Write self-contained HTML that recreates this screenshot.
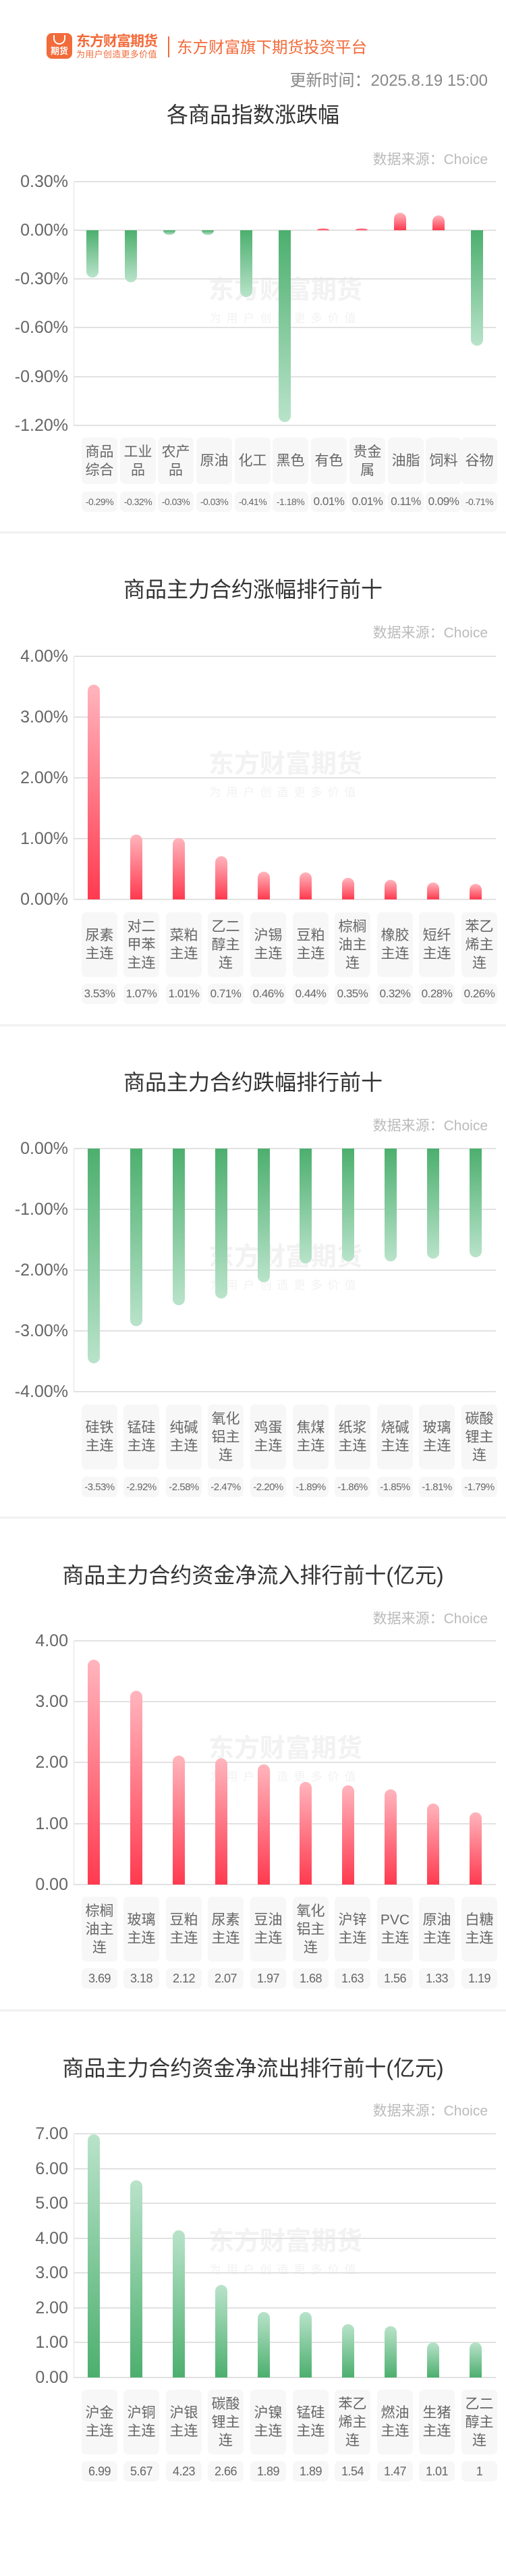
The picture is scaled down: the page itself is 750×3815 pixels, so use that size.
<!DOCTYPE html>
<html><head><meta charset="utf-8">
<style>
*{margin:0;padding:0;box-sizing:border-box}
body{width:750px;height:3815px;background:#fff;position:relative;overflow:hidden;font-family:"Liberation Sans","Noto Sans CJK SC",sans-serif}
div{position:absolute}
.t{left:0;width:750px;text-align:center;font-size:32px;color:#333;line-height:36px}
.ds{right:27px;font-size:21px;color:#bbb;line-height:24px}
.sep{left:0;width:750px;height:3px;background:#f1f1f1}
.g{left:110px;width:625px;height:2px;background:#e2e2e2}
.ya{left:109px;width:1px;background:#e2e2e2}
.yl{left:0;width:101px;text-align:right;font-size:25px;color:#666;line-height:28px;height:28px}
.gn,.gp,.rn,.rp{width:18px}
.gn{background:linear-gradient(#4caf6e,#b9e3ca);border-radius:0 0 9px 9px}
.gp{background:linear-gradient(#b9e3ca,#4caf6e);border-radius:9px 9px 0 0}
.rp{background:linear-gradient(#ffb5bd,#ff3a4f);border-radius:9px 9px 0 0}
.rn{background:linear-gradient(#ff3a4f,#ffb5bd);border-radius:0 0 9px 9px}
.lb{width:53px;background:#f7f7f7;border-radius:7px;display:flex;align-items:center;justify-content:center;text-align:center;font-size:21px;line-height:27px;color:#666;word-break:break-all;padding:0 4px}
.v{width:53px;height:30px;background:#f7f7f7;border-radius:7px;display:flex;align-items:center;justify-content:center;color:#666;font-size:17px;white-space:nowrap;letter-spacing:-0.5px}
.wm{left:308px;width:230px;text-align:center;font-size:38px;font-weight:bold;color:#f2f2f2;line-height:40px;white-space:nowrap}
.wms{left:308px;width:230px;text-align:center;font-size:17px;color:#f2f2f2;letter-spacing:8px;white-space:nowrap;line-height:20px}
</style></head><body>

<!-- header -->
<div style="left:69px;top:49px;width:38px;height:38px;background:#f26b3a;border-radius:8px"></div>
<div style="left:79px;top:52px;width:18px;height:14px;border:2px solid #fff;border-top:none;border-radius:0 0 9px 9px"></div>
<div style="left:70px;top:68px;width:36px;text-align:center;color:#fff;font-size:13px;font-weight:bold;line-height:16px">期货</div>
<div style="left:113px;top:50px;font-size:21px;font-weight:bold;color:#f26b3a;line-height:24px;letter-spacing:-1px">东方财富期货</div>
<div style="left:113px;top:74px;font-size:13px;color:#f26b3a;line-height:14px;letter-spacing:0.3px">为用户创造更多价值</div>
<div style="left:249px;top:54px;width:2px;height:31px;background:#f26b3a"></div>
<div style="left:262px;top:56px;font-size:23.5px;color:#f26b3a;line-height:28px">东方财富旗下期货投资平台</div>
<div style="right:27px;top:106px;font-size:24px;color:#888;line-height:28px">更新时间：2025.8.19 15:00</div>

<!-- ========== chart 1 ========== -->
<div class="t" style="top:152px">各商品指数涨跌幅</div>
<div class="ds" style="top:225px">数据来源：Choice</div>
<div class="wm" style="top:410px">东方财富期货</div><div class="wms" style="top:462px">为用户创造更多价值</div>
<div class="ya" style="top:269px;height:362px"></div>
<div class="g" style="top:268px"></div><div class="g" style="top:340px"></div><div class="g" style="top:412px"></div><div class="g" style="top:484px"></div><div class="g" style="top:557px"></div><div class="g" style="top:629px"></div>
<div class="yl" style="top:255px">0.30%</div><div class="yl" style="top:327px">0.00%</div><div class="yl" style="top:399px">-0.30%</div><div class="yl" style="top:471px">-0.60%</div><div class="yl" style="top:544px">-0.90%</div><div class="yl" style="top:616px">-1.20%</div>
<div class="gn" style="left:128px;top:341px;height:70px"></div>
<div class="gn" style="left:185px;top:341px;height:77px"></div>
<div class="gn" style="left:242px;top:341px;height:7px;border-radius:0 0 9px 9px/0 0 7px 7px"></div>
<div class="gn" style="left:299px;top:341px;height:7px;border-radius:0 0 9px 9px/0 0 7px 7px"></div>
<div class="gn" style="left:356px;top:341px;height:99px"></div>
<div class="gn" style="left:413px;top:341px;height:284px"></div>
<div class="rp" style="left:470px;top:338px;height:3px;border-radius:9px 9px 0 0/3px 3px 0 0"></div>
<div class="rp" style="left:527px;top:338px;height:3px;border-radius:9px 9px 0 0/3px 3px 0 0"></div>
<div class="rp" style="left:584px;top:315px;height:26px"></div>
<div class="rp" style="left:641px;top:319px;height:22px"></div>
<div class="gn" style="left:698px;top:341px;height:171px"></div>

<div class="lb" style="left:121px;top:648px;height:69px">商品综合</div>
<div class="lb" style="left:178px;top:648px;height:69px">工业品</div>
<div class="lb" style="left:234px;top:648px;height:69px">农产品</div>
<div class="lb" style="left:291px;top:648px;height:69px">原油</div>
<div class="lb" style="left:348px;top:648px;height:69px">化工</div>
<div class="lb" style="left:404px;top:648px;height:69px">黑色</div>
<div class="lb" style="left:461px;top:648px;height:69px">有色</div>
<div class="lb" style="left:518px;top:648px;height:69px">贵金属</div>
<div class="lb" style="left:575px;top:648px;height:69px">油脂</div>
<div class="lb" style="left:631px;top:648px;height:69px">饲料</div>
<div class="lb" style="left:684px;top:648px;height:69px">谷物</div>
<div class="v" style="left:121px;top:728px;font-size:14px">-0.29%</div>
<div class="v" style="left:178px;top:728px;font-size:14px">-0.32%</div>
<div class="v" style="left:234px;top:728px;font-size:14px">-0.03%</div>
<div class="v" style="left:291px;top:728px;font-size:14px">-0.03%</div>
<div class="v" style="left:348px;top:728px;font-size:14px">-0.41%</div>
<div class="v" style="left:404px;top:728px;font-size:14px">-1.18%</div>
<div class="v" style="left:461px;top:728px">0.01%</div>
<div class="v" style="left:518px;top:728px">0.01%</div>
<div class="v" style="left:575px;top:728px">0.11%</div>
<div class="v" style="left:631px;top:728px">0.09%</div>
<div class="v" style="left:684px;top:728px;font-size:14px">-0.71%</div>
<div class="sep" style="top:787px"></div>

<!-- ========== chart 2 ========== -->
<div class="t" style="top:855px">商品主力合约涨幅排行前十</div>
<div class="ds" style="top:926px">数据来源：Choice</div>
<div class="wm" style="top:1112px">东方财富期货</div><div class="wms" style="top:1164px">为用户创造更多价值</div>
<div class="ya" style="top:972px;height:361px"></div>
<div class="g" style="top:971px"></div><div class="g" style="top:1061px"></div><div class="g" style="top:1151px"></div><div class="g" style="top:1241px"></div><div class="g" style="top:1331px"></div>
<div class="yl" style="top:958px">4.00%</div><div class="yl" style="top:1048px">3.00%</div><div class="yl" style="top:1138px">2.00%</div><div class="yl" style="top:1228px">1.00%</div><div class="yl" style="top:1318px">0.00%</div>
<div class="rp" style="left:130px;top:1014px;height:318px"></div>
<div class="rp" style="left:193px;top:1236px;height:96px"></div>
<div class="rp" style="left:256px;top:1241px;height:91px"></div>
<div class="rp" style="left:319px;top:1268px;height:64px"></div>
<div class="rp" style="left:382px;top:1291px;height:41px"></div>
<div class="rp" style="left:444px;top:1292px;height:40px"></div>
<div class="rp" style="left:507px;top:1300px;height:32px"></div>
<div class="rp" style="left:570px;top:1303px;height:29px"></div>
<div class="rp" style="left:633px;top:1307px;height:25px"></div>
<div class="rp" style="left:696px;top:1309px;height:23px"></div>
<div class="lb" style="left:121px;top:1351px;height:96px">尿素主连</div>
<div class="lb" style="left:183px;top:1351px;height:96px">对二甲苯主连</div>
<div class="lb" style="left:246px;top:1351px;height:96px">菜粕主连</div>
<div class="lb" style="left:308px;top:1351px;height:96px">乙二醇主连</div>
<div class="lb" style="left:371px;top:1351px;height:96px">沪锡主连</div>
<div class="lb" style="left:434px;top:1351px;height:96px">豆粕主连</div>
<div class="lb" style="left:496px;top:1351px;height:96px">棕榈油主连</div>
<div class="lb" style="left:559px;top:1351px;height:96px">橡胶主连</div>
<div class="lb" style="left:621px;top:1351px;height:96px">短纤主连</div>
<div class="lb" style="left:684px;top:1351px;height:96px">苯乙烯主连</div>
<div class="v" style="left:121px;top:1457px">3.53%</div>
<div class="v" style="left:183px;top:1457px">1.07%</div>
<div class="v" style="left:246px;top:1457px">1.01%</div>
<div class="v" style="left:308px;top:1457px">0.71%</div>
<div class="v" style="left:371px;top:1457px">0.46%</div>
<div class="v" style="left:434px;top:1457px">0.44%</div>
<div class="v" style="left:496px;top:1457px">0.35%</div>
<div class="v" style="left:559px;top:1457px">0.32%</div>
<div class="v" style="left:621px;top:1457px">0.28%</div>
<div class="v" style="left:684px;top:1457px">0.26%</div>
<div class="sep" style="top:1517px"></div>

<!-- ========== chart 3 ========== -->
<div class="t" style="top:1585px">商品主力合约跌幅排行前十</div>
<div class="ds" style="top:1656px">数据来源：Choice</div>
<div class="wm" style="top:1842px">东方财富期货</div><div class="wms" style="top:1894px">为用户创造更多价值</div>
<div class="ya" style="top:1701px;height:361px"></div>
<div class="g" style="top:1700px"></div><div class="g" style="top:1790px"></div><div class="g" style="top:1880px"></div><div class="g" style="top:1970px"></div><div class="g" style="top:2060px"></div>
<div class="yl" style="top:1687px">0.00%</div><div class="yl" style="top:1777px">-1.00%</div><div class="yl" style="top:1867px">-2.00%</div><div class="yl" style="top:1957px">-3.00%</div><div class="yl" style="top:2047px">-4.00%</div>
<div class="gn" style="left:130px;top:1701px;height:318px"></div>
<div class="gn" style="left:193px;top:1701px;height:263px"></div>
<div class="gn" style="left:256px;top:1701px;height:232px"></div>
<div class="gn" style="left:319px;top:1701px;height:222px"></div>
<div class="gn" style="left:382px;top:1701px;height:198px"></div>
<div class="gn" style="left:444px;top:1701px;height:170px"></div>
<div class="gn" style="left:507px;top:1701px;height:167px"></div>
<div class="gn" style="left:570px;top:1701px;height:167px"></div>
<div class="gn" style="left:633px;top:1701px;height:163px"></div>
<div class="gn" style="left:696px;top:1701px;height:161px"></div>
<div class="lb" style="left:121px;top:2080px;height:96px">硅铁主连</div>
<div class="lb" style="left:183px;top:2080px;height:96px">锰硅主连</div>
<div class="lb" style="left:246px;top:2080px;height:96px">纯碱主连</div>
<div class="lb" style="left:308px;top:2080px;height:96px">氧化铝主连</div>
<div class="lb" style="left:371px;top:2080px;height:96px">鸡蛋主连</div>
<div class="lb" style="left:434px;top:2080px;height:96px">焦煤主连</div>
<div class="lb" style="left:496px;top:2080px;height:96px">纸浆主连</div>
<div class="lb" style="left:559px;top:2080px;height:96px">烧碱主连</div>
<div class="lb" style="left:621px;top:2080px;height:96px">玻璃主连</div>
<div class="lb" style="left:684px;top:2080px;height:96px">碳酸锂主连</div>
<div class="v" style="left:121px;top:2187px;font-size:15px">-3.53%</div>
<div class="v" style="left:183px;top:2187px;font-size:15px">-2.92%</div>
<div class="v" style="left:246px;top:2187px;font-size:15px">-2.58%</div>
<div class="v" style="left:308px;top:2187px;font-size:15px">-2.47%</div>
<div class="v" style="left:371px;top:2187px;font-size:15px">-2.20%</div>
<div class="v" style="left:434px;top:2187px;font-size:15px">-1.89%</div>
<div class="v" style="left:496px;top:2187px;font-size:15px">-1.86%</div>
<div class="v" style="left:559px;top:2187px;font-size:15px">-1.85%</div>
<div class="v" style="left:621px;top:2187px;font-size:15px">-1.81%</div>
<div class="v" style="left:684px;top:2187px;font-size:15px">-1.79%</div>
<div class="sep" style="top:2246px"></div>

<!-- ========== chart 4 ========== -->
<div class="t" style="top:2315px">商品主力合约资金净流入排行前十(亿元)</div>
<div class="ds" style="top:2386px">数据来源：Choice</div>
<div class="wm" style="top:2570px">东方财富期货</div><div class="wms" style="top:2622px">为用户创造更多价值</div>
<div class="ya" style="top:2430px;height:362px"></div>
<div class="g" style="top:2429px"></div><div class="g" style="top:2519px"></div><div class="g" style="top:2609px"></div><div class="g" style="top:2700px"></div><div class="g" style="top:2790px"></div>
<div class="yl" style="top:2416px">4.00</div><div class="yl" style="top:2506px">3.00</div><div class="yl" style="top:2596px">2.00</div><div class="yl" style="top:2687px">1.00</div><div class="yl" style="top:2777px">0.00</div>
<div class="rp" style="left:130px;top:2458px;height:333px"></div>
<div class="rp" style="left:193px;top:2504px;height:287px"></div>
<div class="rp" style="left:256px;top:2600px;height:191px"></div>
<div class="rp" style="left:319px;top:2604px;height:187px"></div>
<div class="rp" style="left:382px;top:2613px;height:178px"></div>
<div class="rp" style="left:444px;top:2639px;height:152px"></div>
<div class="rp" style="left:507px;top:2644px;height:147px"></div>
<div class="rp" style="left:570px;top:2650px;height:141px"></div>
<div class="rp" style="left:633px;top:2671px;height:120px"></div>
<div class="rp" style="left:696px;top:2684px;height:107px"></div>
<div class="lb" style="left:121px;top:2809px;height:96px">棕榈油主连</div>
<div class="lb" style="left:183px;top:2809px;height:96px">玻璃主连</div>
<div class="lb" style="left:246px;top:2809px;height:96px">豆粕主连</div>
<div class="lb" style="left:308px;top:2809px;height:96px">尿素主连</div>
<div class="lb" style="left:371px;top:2809px;height:96px">豆油主连</div>
<div class="lb" style="left:434px;top:2809px;height:96px">氧化铝主连</div>
<div class="lb" style="left:496px;top:2809px;height:96px">沪锌主连</div>
<div class="lb" style="left:559px;top:2809px;height:96px">PVC 主连</div>
<div class="lb" style="left:621px;top:2809px;height:96px">原油主连</div>
<div class="lb" style="left:684px;top:2809px;height:96px">白糖主连</div>
<div class="v" style="left:121px;top:2915px;font-size:18px">3.69</div>
<div class="v" style="left:183px;top:2915px;font-size:18px">3.18</div>
<div class="v" style="left:246px;top:2915px;font-size:18px">2.12</div>
<div class="v" style="left:308px;top:2915px;font-size:18px">2.07</div>
<div class="v" style="left:371px;top:2915px;font-size:18px">1.97</div>
<div class="v" style="left:434px;top:2915px;font-size:18px">1.68</div>
<div class="v" style="left:496px;top:2915px;font-size:18px">1.63</div>
<div class="v" style="left:559px;top:2915px;font-size:18px">1.56</div>
<div class="v" style="left:621px;top:2915px;font-size:18px">1.33</div>
<div class="v" style="left:684px;top:2915px;font-size:18px">1.19</div>
<div class="sep" style="top:2976px"></div>

<!-- ========== chart 5 ========== -->
<div class="t" style="top:3045px">商品主力合约资金净流出排行前十(亿元)</div>
<div class="ds" style="top:3115px">数据来源：Choice</div>
<div class="wm" style="top:3300px">东方财富期货</div><div class="wms" style="top:3352px">为用户创造更多价值</div>
<div class="ya" style="top:3160px;height:362px"></div>
<div class="g" style="top:3159px"></div><div class="g" style="top:3211px"></div><div class="g" style="top:3262px"></div><div class="g" style="top:3314px"></div><div class="g" style="top:3365px"></div><div class="g" style="top:3417px"></div><div class="g" style="top:3468px"></div><div class="g" style="top:3520px"></div>
<div class="yl" style="top:3146px">7.00</div><div class="yl" style="top:3198px">6.00</div><div class="yl" style="top:3249px">5.00</div><div class="yl" style="top:3301px">4.00</div><div class="yl" style="top:3352px">3.00</div><div class="yl" style="top:3404px">2.00</div><div class="yl" style="top:3455px">1.00</div><div class="yl" style="top:3507px">0.00</div>
<div class="gp" style="left:130px;top:3161px;height:360px"></div>
<div class="gp" style="left:193px;top:3229px;height:292px"></div>
<div class="gp" style="left:256px;top:3303px;height:218px"></div>
<div class="gp" style="left:319px;top:3384px;height:137px"></div>
<div class="gp" style="left:382px;top:3424px;height:97px"></div>
<div class="gp" style="left:444px;top:3424px;height:97px"></div>
<div class="gp" style="left:507px;top:3442px;height:79px"></div>
<div class="gp" style="left:570px;top:3445px;height:76px"></div>
<div class="gp" style="left:633px;top:3469px;height:52px"></div>
<div class="gp" style="left:696px;top:3469px;height:52px"></div>
<div class="lb" style="left:121px;top:3539px;height:96px">沪金主连</div>
<div class="lb" style="left:183px;top:3539px;height:96px">沪铜主连</div>
<div class="lb" style="left:246px;top:3539px;height:96px">沪银主连</div>
<div class="lb" style="left:308px;top:3539px;height:96px">碳酸锂主连</div>
<div class="lb" style="left:371px;top:3539px;height:96px">沪镍主连</div>
<div class="lb" style="left:434px;top:3539px;height:96px">锰硅主连</div>
<div class="lb" style="left:496px;top:3539px;height:96px">苯乙烯主连</div>
<div class="lb" style="left:559px;top:3539px;height:96px">燃油主连</div>
<div class="lb" style="left:621px;top:3539px;height:96px">生猪主连</div>
<div class="lb" style="left:684px;top:3539px;height:96px">乙二醇主连</div>
<div class="v" style="left:121px;top:3645px;font-size:18px">6.99</div>
<div class="v" style="left:183px;top:3645px;font-size:18px">5.67</div>
<div class="v" style="left:246px;top:3645px;font-size:18px">4.23</div>
<div class="v" style="left:308px;top:3645px;font-size:18px">2.66</div>
<div class="v" style="left:371px;top:3645px;font-size:18px">1.89</div>
<div class="v" style="left:434px;top:3645px;font-size:18px">1.89</div>
<div class="v" style="left:496px;top:3645px;font-size:18px">1.54</div>
<div class="v" style="left:559px;top:3645px;font-size:18px">1.47</div>
<div class="v" style="left:621px;top:3645px;font-size:18px">1.01</div>
<div class="v" style="left:684px;top:3645px;font-size:18px">1</div>
</body></html>
